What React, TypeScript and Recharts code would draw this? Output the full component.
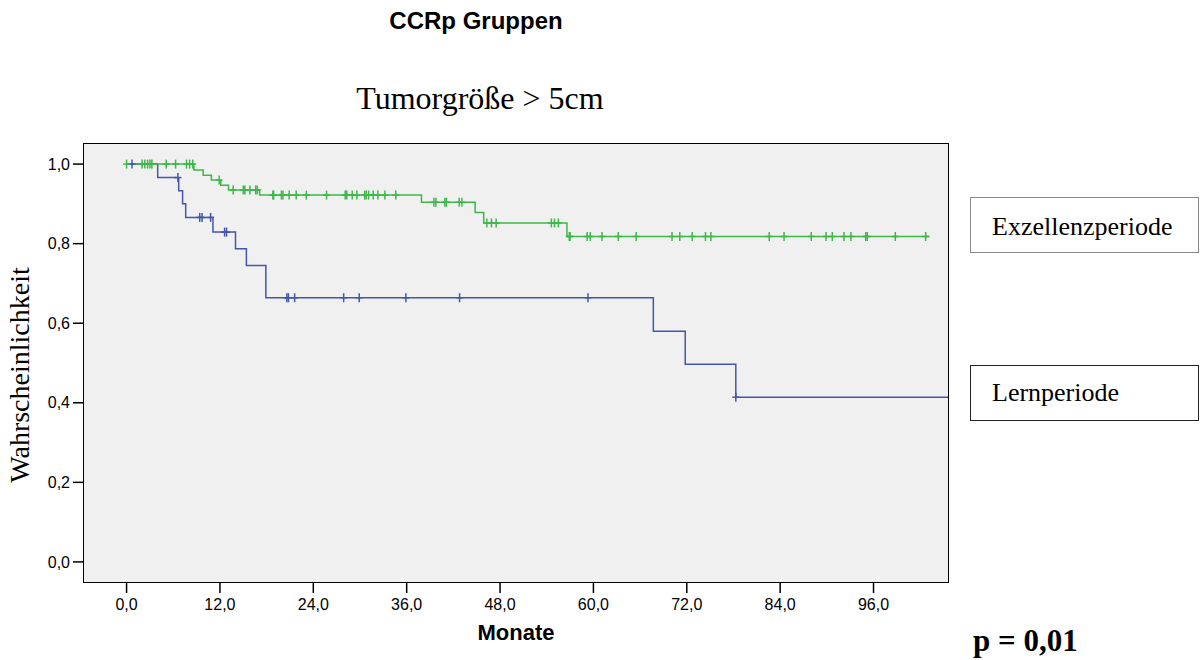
import { ComposedChart, Line, Scatter, XAxis, YAxis, CartesianGrid } from 'recharts';

// Kaplan-Meier Stufen (Monate / Überlebenswahrscheinlichkeit)
const lernTimes = [0, 4.0, 6.7, 7.2, 7.6, 11.1, 14.0, 15.4, 17.9, 67.7, 71.8, 78.3, 105.7];
const lernSurv = [1.0, 0.966, 0.933, 0.9, 0.866, 0.829, 0.787, 0.745, 0.664, 0.58, 0.497, 0.414, 0.414];
const lernCensored = [0.7, 6.6, 9.4, 9.7, 10.8, 12.6, 12.85, 20.6, 20.8, 21.6, 27.9, 29.9, 35.9, 42.8, 59.3, 78.3];

const exzTimes = [0, 8.65, 9.85, 10.9, 12.1, 13.1, 17.1, 37.9, 44.8, 45.9, 56.6, 103.2];
const exzSurv = [1.0, 0.985, 0.972, 0.96, 0.947, 0.935, 0.922, 0.904, 0.878, 0.852, 0.818, 0.818];
const exzCensored = [
  0, 2.0, 2.35, 2.7, 3.0, 3.25, 5.1, 6.3, 7.7, 8.1, 8.5, 11.9, 13.7, 15.0, 15.2, 15.85, 16.6, 16.8,
  18.8, 18.9, 19.9, 20.1, 20.9, 21.8, 23.1, 25.7, 28.1, 28.3, 29.0, 29.6, 30.6, 30.8, 31.1, 31.7,
  32.3, 33.2, 34.6, 39.5, 39.75, 40.9, 41.1, 42.75, 43.1, 46.3, 46.9, 47.5, 54.6, 55.0, 55.5, 56.9,
  57.0, 59.2, 59.6, 61.1, 63.2, 65.5, 70.1, 71.1, 72.7, 74.4, 75.1, 82.6, 84.5, 88.0, 89.9, 90.7,
  92.2, 93.1, 95.0, 95.2, 98.8, 102.7,
];

const monthTicks = [0, 12, 24, 36, 48, 60, 72, 84, 96];
const probTicks = [0, 0.2, 0.4, 0.6, 0.8, 1.0];

const BLUE = '#4256ad';
const GREEN = '#3fb64a';

const toSteps = (times: number[], surv: number[]) => times.map((t, i) => ({ t, s: surv[i] }));

const survAt = (times: number[], surv: number[], t: number) => {
  let s = surv[0];
  times.forEach((tt, i) => {
    if (tt <= t) s = surv[i];
  });
  return s;
};

const toMarks = (cens: number[], times: number[], surv: number[]) =>
  cens.map((t) => ({ t, s: survAt(times, surv, t) }));

const lernData = toSteps(lernTimes, lernSurv);
const exzData = toSteps(exzTimes, exzSurv);
const lernMarks = toMarks(lernCensored, lernTimes, lernSurv);
const exzMarks = toMarks(exzCensored, exzTimes, exzSurv);

const fmt = (v: number) => v.toFixed(1).replace('.', ',');

const censorShape = (color: string) => (props: any) => {
  const { cx, cy } = props;
  return (
    <g stroke={color} strokeWidth={1.5}>
      <line x1={cx} y1={cy - 4.5} x2={cx} y2={cy + 4.5} />
      <line x1={cx - 3.5} y1={cy} x2={cx + 3.5} y2={cy} />
    </g>
  );
};

const sans = '"Liberation Sans", Arial, sans-serif';
const serif = '"Liberation Serif", "Times New Roman", serif';

export default function App() {
  return (
    <div style={{ position: 'absolute', left: 0, top: 0, width: 1200, height: 660, background: '#fff', overflow: 'hidden' }}>
      <div style={{ position: 'absolute', left: 0, width: 952, top: 7, textAlign: 'center', fontFamily: sans, fontWeight: 'bold', fontSize: 24 }}>
        CCRp Gruppen
      </div>
      <div style={{ position: 'absolute', left: 0, width: 960, top: 80, textAlign: 'center', fontFamily: serif, fontSize: 32 }}>
        Tumorgröße &gt; 5cm
      </div>

      <ComposedChart width={1200} height={660} margin={{ top: 143, right: 251, bottom: 0, left: 0 }} style={{ position: 'absolute', left: 0, top: 0 }}>
        <CartesianGrid fill="#f0f0f0" horizontal={false} vertical={false} />
        <XAxis
          type="number"
          dataKey="t"
          domain={[-5.6, 105.7]}
          ticks={monthTicks}
          allowDataOverflow
          tickFormatter={fmt}
          height={77}
          axisLine={false}
          tickSize={10}
          tickMargin={6}
          tickLine={{ stroke: '#000', strokeWidth: 1.5 }}
          tick={{ fill: '#000', fontSize: 16, fontFamily: sans }}
        />
        <YAxis
          type="number"
          dataKey="s"
          domain={[-0.053, 1.053]}
          ticks={probTicks}
          allowDataOverflow
          tickFormatter={fmt}
          width={83}
          axisLine={false}
          tickSize={10}
          tickMargin={3}
          tickLine={{ stroke: '#000', strokeWidth: 1.5 }}
          tick={{ fill: '#000', fontSize: 16, fontFamily: sans }}
        />
        <Line data={lernData} dataKey="s" type="stepAfter" stroke={BLUE} strokeWidth={1.5} dot={false} isAnimationActive={false} />
        <Line data={exzData} dataKey="s" type="stepAfter" stroke={GREEN} strokeWidth={1.5} dot={false} isAnimationActive={false} />
        <Scatter data={lernMarks} dataKey="s" shape={censorShape(BLUE)} isAnimationActive={false} />
        <Scatter data={exzMarks} dataKey="s" shape={censorShape(GREEN)} isAnimationActive={false} />
      </ComposedChart>

      <div style={{ position: 'absolute', left: 83, top: 143, width: 866, height: 440, border: '1px solid #000', boxSizing: 'border-box', pointerEvents: 'none' }} />

      <div style={{ position: 'absolute', left: 0, width: 950, top: 620, textAlign: 'center', paddingLeft: 82, boxSizing: 'border-box', fontFamily: sans, fontWeight: 'bold', fontSize: 22 }}>
        Monate
      </div>
      <div
        style={{
          position: 'absolute',
          left: 20,
          top: 375,
          transform: 'translate(-50%, -50%) rotate(-90deg)',
          whiteSpace: 'nowrap',
          fontFamily: serif,
          fontSize: 28,
        }}
      >
        Wahrscheinlichkeit
      </div>

      <div style={{ position: 'absolute', left: 970, top: 197, width: 229, height: 56, border: '1px solid #8a8a8a', boxSizing: 'border-box', fontFamily: serif, fontSize: 26, lineHeight: '57px', paddingLeft: 21 }}>
        Exzellenzperiode
      </div>
      <div style={{ position: 'absolute', left: 970, top: 365, width: 229, height: 56, border: '1px solid #222', boxSizing: 'border-box', fontFamily: serif, fontSize: 26, lineHeight: '54px', paddingLeft: 21 }}>
        Lernperiode
      </div>

      <div style={{ position: 'absolute', left: 973, top: 623, fontFamily: serif, fontWeight: 'bold', fontSize: 31, whiteSpace: 'nowrap' }}>
        p = 0,01
      </div>
    </div>
  );
}
